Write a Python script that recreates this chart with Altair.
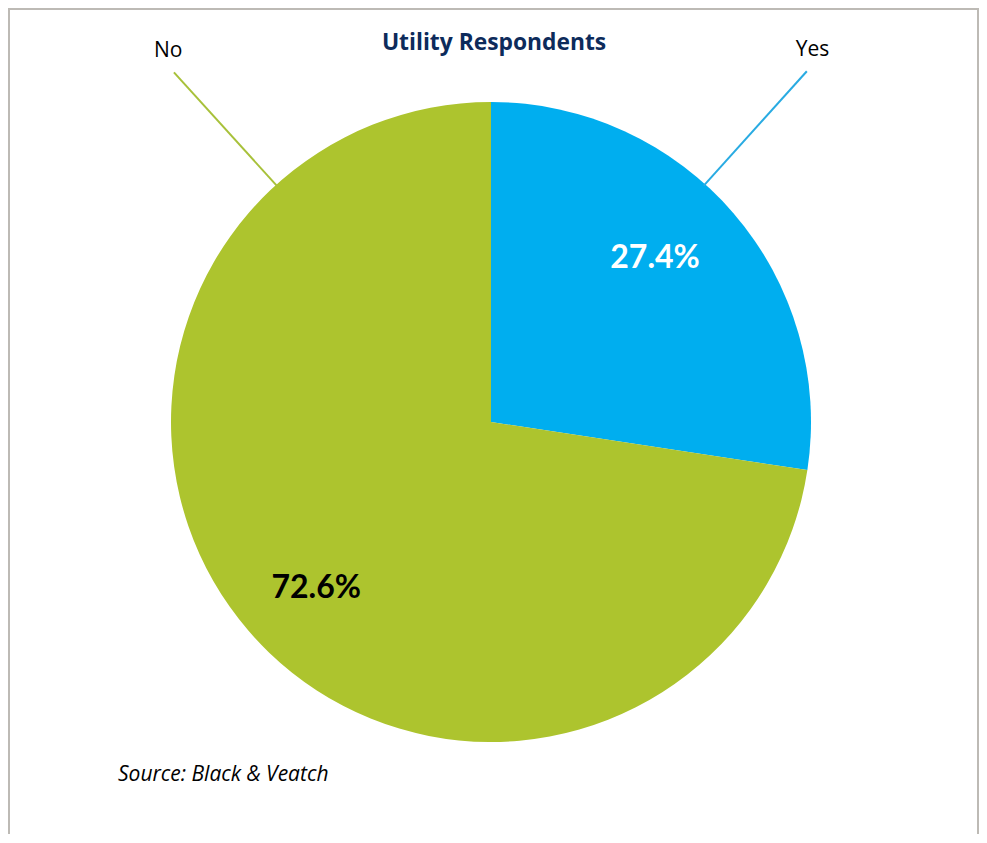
import math
import altair as alt
import pandas as pd

# ---- data ----
categories = ["Yes", "No"]
shares = [27.4, 72.6]
pct_labels = ["27.4%", "72.6%"]
slice_colors = ["#00AEEF", "#ADC42E"]
pct_colors = ["#FFFFFF", "#000000"]
leader_colors = ["#29ABE2", "#A8C13A"]
leader_angles = [42.0, 317.8]      # degrees clockwise from 12 o'clock
label_angles = [40.8, 319.0]
pct_angles = [45.0, 226.5]
pct_radii = [232, 241]
title_text = "Utility Respondents"
source_text = "Source: Black & Veatch"

# ---- layout ----
W, H = 971, 826
CX, CY, R = 483, 414, 320
LEADER_R1, LEADER_R2 = 318, 472
LABEL_R = 492


def polar(angle_deg, r):
    a = math.radians(angle_deg)
    return CX + r * math.sin(a), CY - r * math.cos(a)


df = pd.DataFrame({
    "category": categories,
    "share": shares,
    "order": list(range(len(categories))),
})

lab = pd.DataFrame({
    "category": categories,
    "pct": pct_labels,
    "pct_color": pct_colors,
    "stroke": leader_colors,
})
lab["x1"], lab["y1"] = zip(*[polar(a, LEADER_R1) for a in leader_angles])
lab["x2"], lab["y2"] = zip(*[polar(a, LEADER_R2) for a in leader_angles])
lab["lx"], lab["ly"] = zip(*[polar(a, LABEL_R) for a in label_angles])
lab["px"], lab["py"] = zip(*[polar(a, r) for a, r in zip(pct_angles, pct_radii)])

pie = alt.Chart(df).mark_arc(radius=R).encode(
    theta=alt.Theta("share:Q", stack=True),
    order=alt.Order("order:Q"),
    color=alt.Color("category:N", scale=alt.Scale(domain=categories, range=slice_colors), legend=None),
    x=alt.value(CX),
    y=alt.value(CY),
)

pct = alt.Chart(lab).mark_text(font="Lato", fontWeight="bold", fontSize=32, baseline="middle").encode(
    x=alt.X("px:Q", scale=None),
    y=alt.Y("py:Q", scale=None),
    text="pct:N",
    fill=alt.Fill("pct_color:N", scale=None),
)

leaders = alt.Chart(lab).mark_rule(strokeWidth=2).encode(
    x=alt.X("x1:Q", scale=None),
    y=alt.Y("y1:Q", scale=None),
    x2="x2:Q",
    y2="y2:Q",
    stroke=alt.Stroke("stroke:N", scale=None),
)

cat_labels = alt.Chart(lab).mark_text(font="Open Sans", fontSize=21, color="#000000", baseline="middle").encode(
    x=alt.X("lx:Q", scale=None),
    y=alt.Y("ly:Q", scale=None),
    text="category:N",
)

meta = pd.DataFrame({"title": [title_text], "source": [source_text]})
title = alt.Chart(meta).mark_text(font="Open Sans", fontWeight="bold", fontSize=22.8, color="#0D2B5B",
                                  baseline="middle").encode(
    x=alt.value(486), y=alt.value(35), text="title:N"
)
source = alt.Chart(meta).mark_text(font="Open Sans", fontStyle="italic", fontSize=21, color="#000000",
                                   align="left", baseline="middle").encode(
    x=alt.value(110), y=alt.value(767), text="source:N"
)
frame_col = "#BDBAB5"
left_edge = alt.Chart(meta).mark_rule(stroke=frame_col, strokeWidth=2).encode(
    x=alt.value(1), y=alt.value(0), y2=alt.value(H)
)
right_edge = alt.Chart(meta).mark_rule(stroke=frame_col, strokeWidth=2).encode(
    x=alt.value(W - 1), y=alt.value(0), y2=alt.value(H)
)
top_edge = alt.Chart(meta).mark_rule(stroke=frame_col, strokeWidth=2).encode(
    y=alt.value(1), x=alt.value(0), x2=alt.value(W)
)

chart = alt.layer(left_edge, right_edge, top_edge, pie, leaders, pct, cat_labels, title, source).properties(
    width=W, height=H, autosize=alt.AutoSizeParams(type="none"), padding=0,
).configure_view(stroke=None).configure(background="white")

chart.save("out.html", embed_options={"renderer": "svg", "actions": False})
